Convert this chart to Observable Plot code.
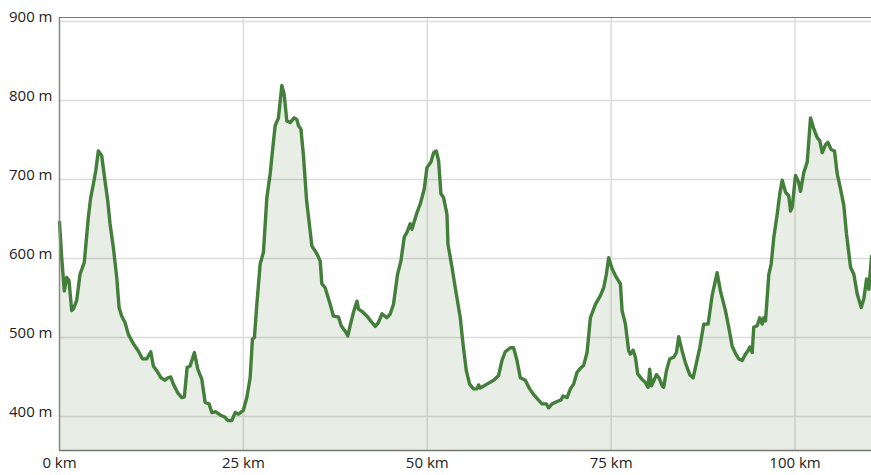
<!DOCTYPE html>
<html>
<head>
<meta charset="utf-8">
<script src="https://cdn.jsdelivr.net/npm/d3@7"></script>
<script src="https://cdn.jsdelivr.net/npm/@observablehq/plot@0.6"></script>
<style>
  html, body { margin: 0; padding: 0; background: #fff; }
  #chart svg { display: block; }
</style>
</head>
<body>
<div id="chart"></div>
<script>
// Distance along the route (km)
const distanceKm = [
  0, 0.3, 0.65, 0.98, 1.29, 1.66, 1.88, 2.34, 2.79, 3.37,
  3.92, 4.24, 4.6, 4.93, 5.28, 5.74, 6.19, 6.56, 6.87, 7.32,
  7.78, 8.1, 8.46, 8.91, 9.36, 10.04, 10.72, 11.27, 11.86, 12.41,
  12.76, 13.22, 13.81, 14.35, 14.72, 15.13, 15.48, 16.08, 16.63, 16.98,
  17.35, 17.76, 18.34, 18.8, 19.35, 19.8, 20.34, 20.71, 21.25, 21.84,
  22.52, 22.88, 23.43, 23.88, 24.33, 25.0, 25.47, 25.92, 26.23, 26.5,
  26.83, 27.28, 27.73, 28.19, 28.64, 29.01, 29.32, 29.77, 30.23, 30.54,
  30.91, 31.36, 31.9, 32.27, 32.49, 32.82, 33.17, 33.6, 34.31, 34.99,
  35.44, 35.67, 36.12, 36.8, 37.25, 37.93, 38.3, 38.84, 39.2, 39.52,
  39.97, 40.44, 40.65, 41.25, 41.8, 42.48, 42.93, 43.37, 43.84, 44.52,
  44.97, 45.41, 45.96, 46.42, 46.87, 47.24, 47.69, 47.92, 48.14, 48.6,
  49.05, 49.59, 49.96, 50.5, 50.86, 51.22, 51.54, 51.86, 52.22, 52.68,
  52.82, 53.36, 53.95, 54.49, 54.86, 55.31, 55.76, 56.3, 56.76, 56.98,
  57.21, 58.12, 59.02, 59.7, 60.16, 60.61, 61.29, 61.74, 62.2, 62.65,
  63.33, 63.92, 64.46, 65.01, 65.61, 66.19, 66.5, 66.97, 67.65, 68.19,
  68.46, 69.01, 69.46, 69.9, 70.37, 70.82, 71.27, 71.73, 72.18, 72.86,
  73.54, 73.99, 74.35, 74.67, 75.13, 75.71, 76.26, 76.49, 76.94, 77.39,
  77.62, 77.99, 78.3, 78.61, 79.21, 79.66, 80.03, 80.24, 80.48, 80.79,
  81.16, 81.52, 81.93, 82.15, 82.52, 82.97, 83.51, 83.88, 84.19, 84.65,
  85.1, 85.69, 86.15, 86.6, 87.05, 87.59, 88.19, 88.73, 89.41, 89.86,
  90.54, 90.99, 91.46, 91.9, 92.35, 92.82, 93.27, 93.58, 93.85, 94.18,
  94.39, 94.86, 95.21, 95.54, 95.76, 95.99, 96.44, 96.76, 97.12, 97.58,
  97.93, 98.26, 98.71, 99.16, 99.39, 99.62, 100.07, 100.52, 100.75, 101.2,
  101.66, 102.11, 102.56, 103.02, 103.37, 103.7, 104.15, 104.46, 104.92, 105.37,
  105.74, 106.19, 106.64, 107.0, 107.55, 108.0, 108.46, 109.0, 109.36, 109.73,
  110.04, 110.41
];

// Elevation (m)
const elevationM = [
  646, 601, 559, 576, 572, 534, 536, 547, 580, 595,
  652, 677, 694, 711, 736, 730, 698, 673, 644, 614,
  576, 538, 527, 519, 504, 492, 483, 473, 473, 482,
  464, 458, 449, 446, 449, 450, 441, 430, 424, 425,
  462, 464, 481, 460, 447, 418, 416, 405, 406, 402,
  399, 395, 395, 405, 403, 408, 424, 449, 498, 500,
  542, 593, 608, 677, 707, 741, 768, 778, 819, 808,
  774, 772, 778, 776, 768, 764, 730, 673, 616, 606,
  597, 568, 563, 542, 527, 526, 515, 508, 502, 515,
  532, 546, 536, 532, 527, 519, 514, 519, 530, 525,
  530, 542, 580, 597, 627, 633, 644, 637, 644, 658,
  669, 688, 715, 722, 734, 736, 724, 682, 677, 656,
  618, 589, 555, 525, 492, 458, 441, 435, 435, 440,
  436, 441, 446, 452, 471, 482, 487, 487, 471, 449,
  446, 435, 428, 422, 416, 416, 411, 416, 419, 421,
  426, 424, 435, 441, 456, 461, 465, 481, 525, 542,
  553, 563, 580, 601, 587, 576, 568, 534, 517, 483,
  479, 484, 475, 454, 447, 443, 437, 460, 439, 445,
  453, 449, 439, 437, 458, 473, 475, 481, 501, 483,
  468, 453, 449, 468, 487, 517, 517, 553, 582, 559,
  534, 513, 489, 480, 473, 471, 479, 483, 488, 481,
  513, 515, 525, 517, 525, 521, 580, 593, 627, 656,
  682, 699, 684, 679, 660, 665, 705, 696, 685, 709,
  722, 778, 764, 753, 749, 734, 744, 747, 738, 736,
  707, 688, 667, 631, 589, 580, 555, 538, 549, 574,
  561, 603
];

// Axis ticks
const xTicks = [0, 25, 50, 75, 100];
const yTicks = [400, 500, 600, 700, 800, 900];
const xDomain = [0, 110.4];
const yDomain = [357, 905];

const profile = distanceKm.map((d, i) => ({km: d, m: elevationM[i]}));

const chart = Plot.plot({
  width: 871,
  height: 475,
  marginLeft: 59,
  marginRight: 0,
  marginTop: 17,
  marginBottom: 25,
  style: {fontFamily: "'Open Sans', sans-serif", fontSize: "15px", color: "#222", background: "#fff"},
  x: {domain: xDomain, label: null},
  y: {domain: yDomain, label: null},
  marks: [
    Plot.gridY(yTicks, {stroke: "#dcdcdc", strokeOpacity: 1, strokeWidth: 1.5}),
    Plot.gridX(xTicks.filter(d => d > 0), {stroke: "#dcdcdc", strokeOpacity: 1, strokeWidth: 1.5}),
    Plot.areaY(profile, {x: "km", y1: yDomain[0], y2: "m", fill: "#4a7c3f", fillOpacity: 0.13}),
    Plot.lineY(profile, {x: "km", y: "m", stroke: "#437f3a", strokeWidth: 3.4, strokeLinejoin: "round", strokeLinecap: "round"}),
    Plot.axisY(yTicks, {tickSize: 0, tickPadding: 7, dy: -4, label: null, tickFormat: d => `${d} m`, fontSize: 15, fill: "#222"}),
    Plot.axisX(xTicks, {tickSize: 0, tickPadding: 7, label: null, tickFormat: d => `${d} km`, fontSize: 15, fill: "#222"}),
    Plot.ruleX([xDomain[0]], {stroke: "#888", strokeWidth: 1.5}),
    Plot.ruleY([yDomain[0]], {stroke: "#777", strokeWidth: 1.5}),
    Plot.ruleY([yDomain[1]], {stroke: "#777", strokeWidth: 1.2})
  ]
});
document.getElementById("chart").appendChild(chart);
</script>
</body>
</html>
